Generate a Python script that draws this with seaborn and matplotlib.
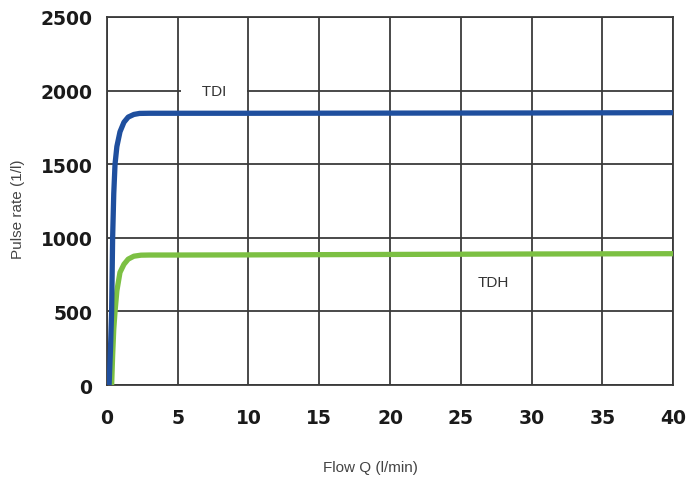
import matplotlib
matplotlib.use("Agg")
import matplotlib.pyplot as plt
import seaborn as sns
import pandas as pd

# Data
tdi_flow = [0.15, 0.25, 0.33, 0.40, 0.48, 0.57, 0.70, 0.92, 1.2, 1.5, 1.9, 2.3, 3.0, 5, 10, 20, 30, 40]
tdi_rate = [0, 250, 500, 1000, 1300, 1500, 1620, 1720, 1785, 1820, 1838, 1845, 1846, 1846, 1846, 1847, 1848, 1850]
tdh_flow = [0.33, 0.40, 0.48, 0.57, 0.70, 0.92, 1.2, 1.5, 1.9, 2.4, 3.0, 5, 10, 20, 30, 40]
tdh_rate = [0, 200, 380, 500, 640, 765, 820, 855, 875, 882, 883, 883, 884, 887, 890, 892]
x_ticks = [0, 5, 10, 15, 20, 25, 30, 35, 40]
y_ticks = [0, 500, 1000, 1500, 2000, 2500]

sns.set_theme(style="white")
plt.rcParams['font.family'] = ['DejaVu Sans']

fig = plt.figure(figsize=(6.87, 4.85), dpi=100)
ax = fig.add_axes([0.1557, 0.2041, 0.824, 0.7588])

grid_c = "#3a3a3a"
df_tdi = pd.DataFrame({"flow": tdi_flow, "rate": tdi_rate})
df_tdh = pd.DataFrame({"flow": tdh_flow, "rate": tdh_rate})
sns.lineplot(data=df_tdh, x="flow", y="rate", ax=ax, color="#7cc043", linewidth=3.8,
             solid_joinstyle="round", solid_capstyle="butt", zorder=3)
sns.lineplot(data=df_tdi, x="flow", y="rate", ax=ax, color="#1f4f9e", linewidth=3.8,
             solid_joinstyle="round", solid_capstyle="butt", zorder=4)

ax.set_xlim(0, 40)
ax.set_ylim(0, 2500)
ax.set_xticks(x_ticks)
ax.set_yticks(y_ticks)
ax.grid(True, color=grid_c, linewidth=1.3, zorder=1)
ax.set_axisbelow(True)
for s in ax.spines.values():
    s.set_color(grid_c)
    s.set_linewidth(1.3)
ax.tick_params(axis="both", direction="out", length=5.5, width=1.3, color=grid_c,
               labelsize=13.5, labelcolor="#1a1a1a")
ax.tick_params(axis="x", pad=11)
ax.tick_params(axis="y", pad=5)
for lab in ax.get_xticklabels() + ax.get_yticklabels():
    lab.set_fontweight("bold")

lab_font = ['Liberation Sans', 'DejaVu Sans']
ax.set_xlabel("Flow Q (l/min)", fontsize=11, color="#444444", family=lab_font)
ax.set_ylabel("Pulse rate (1/l)", fontsize=11, color="#444444", family=lab_font)
ax.xaxis.label.set_va("center")
ax.xaxis.set_label_coords(0.466, -0.223)
ax.yaxis.set_label_coords(-0.145, 0.48)

ax.text(7.55, 2000, "    TDI    ", ha="center", va="center", fontsize=11, color="#333333",
        family=lab_font,
        bbox=dict(facecolor="white", edgecolor="none", boxstyle="square,pad=0.25"), zorder=2.5)
ax.text(27.3, 700, "TDH", ha="center", va="center", fontsize=11, color="#333333",
        family=lab_font, zorder=5)

fig.savefig("out.png", dpi=100)
